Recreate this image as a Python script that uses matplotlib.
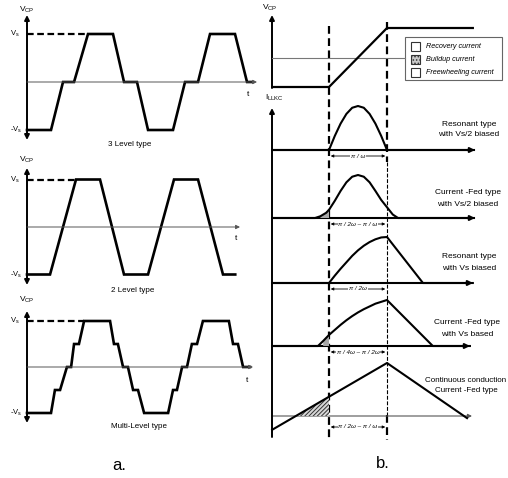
import numpy as np
import matplotlib.pyplot as plt
from matplotlib.patches import Rectangle
from matplotlib.transforms import blended_transform_factory

plt.rcParams["font.family"] = ["Liberation Sans", "DejaVu Sans"]
plt.rcParams["mathtext.default"] = "regular"
plt.rcParams["hatch.linewidth"] = 0.7

W, H = 508, 478

# a. bridge output voltage, time in edge units, level in units of Vs
t_3lvl = [0, 0.98, 1.47, 1.92, 2.49, 3.51, 3.96, 4.49, 4.94, 5.96, 6.45, 6.98, 7.47, 8.49, 8.98, 9.22]
v_3lvl = [-1, -1, 0, 0, 1, 1, 0, 0, -1, -1, 0, 0, 1, 1, 0, 0]
t_2lvl = [0, 0.94, 2.0, 2.98, 3.96, 4.94, 6.0, 6.98, 8.0, 8.5]
v_2lvl = [-1, -1, 1, 1, -1, -1, 1, 1, -1, -1]
t_mlvl = [0, 0.98, 1.14, 1.35, 1.63, 1.80, 1.92, 2.12, 2.33, 3.39, 3.55, 3.71, 3.92, 4.12, 4.33,
          4.53, 4.78, 5.76, 5.96, 6.12, 6.33, 6.53, 6.73, 6.94, 7.18, 8.24, 8.41, 8.61, 8.82, 9.10]
v_mlvl = [-1, -1, -0.5, -0.5, 0, 0, 0.5, 0.5, 1, 1, 0.5, 0.5, 0, 0, -0.5,
          -0.5, -1, -1, -0.5, -0.5, 0, 0, 0.5, 0.5, 1, 1, 0.5, 0.5, 0, 0]
type_labels = ["3 Level type", "2 Level type", "Multi-Level type"]

# b. time in units of pi/omega, currents normalised to their peak
t_vcp = [-0.98, 0, 1, 2.48]
v_vcp = [-1, -1, 1, 1]
t_i1 = [-0.98, 0, 0.1, 0.2, 0.3, 0.4, 0.5, 0.6, 0.7, 0.8, 0.9, 1.0, 2.5]
i_i1 = [0, 0, 0.32, 0.6, 0.82, 0.96, 1.0, 0.96, 0.82, 0.6, 0.32, 0, 0]
t_i2 = [-0.98, -0.24, -0.15, -0.05, 0, 0.1, 0.2, 0.3, 0.4, 0.5, 0.6, 0.7, 0.8, 0.9, 1.0, 1.1, 1.19, 2.5]
i_i2 = [0, 0, 0.04, 0.12, 0.19, 0.4, 0.63, 0.83, 0.96, 1.0, 0.96, 0.83, 0.63, 0.42, 0.25, 0.08, 0, 0]
t_i3 = [-0.98, 0, 0.1, 0.2, 0.3, 0.4, 0.5, 0.6, 0.7, 0.8, 0.9, 1.0, 1.62, 2.48]
i_i3 = [0, 0, 0.16, 0.31, 0.45, 0.59, 0.71, 0.81, 0.89, 0.95, 0.99, 1.0, 0, 0]
t_i4 = [-0.98, -0.19, -0.1, 0, 0.1, 0.2, 0.3, 0.4, 0.5, 0.6, 0.7, 0.8, 0.9, 1.0, 1.79, 2.43]
i_i4 = [0, 0, 0.11, 0.24, 0.35, 0.46, 0.56, 0.65, 0.73, 0.8, 0.86, 0.92, 0.96, 1.0, 0, 0]
t_i5 = [-0.98, 1.0, 2.38]
i_i5 = [-0.26, 1.0, -0.04]
row_labels = [("Resonant type", "with Vs/2 biased"),
              ("Current -Fed type", "with Vs/2 biased"),
              ("Resonant type", "with Vs biased"),
              ("Current -Fed type", "with Vs based"),
              ("Continuous conduction", "Current -Fed type")]
dim_labels = ["\u03c0 / \u03c9", "\u03c0 / 2\u03c9 \u2013 \u03c0 / \u03c9", "\u03c0 / 2\u03c9",
              "\u03c0 / 4\u03c9 \u2013 \u03c0 / 2\u03c9", "\u03c0 / 2\u03c9 \u2013 \u03c0 / \u03c9"]
legend_labels = ["Recovery current", "Buildup current", "Freewheeling current"]

fig = plt.figure(figsize=(W / 100, H / 100), dpi=100)


def row_axes(x0, x1, xzero, xunit, yzero, yunit, ytop, ybot):
    ax = fig.add_axes([x0 / W, 1 - ybot / H, (x1 - x0) / W, (ybot - ytop) / H])
    ax.set_xlim((x0 - xzero) / xunit, (x1 - xzero) / xunit)
    ax.set_ylim((yzero - ybot) / yunit, (yzero - ytop) / yunit)
    ax.axis("off")
    return ax


def arrow(ax, p0, p1, style="-|>", lw=1.4, color="k", ms=7, **kw):
    ax.annotate("", xy=p1, xytext=p0,
                arrowprops=dict(arrowstyle=style, lw=lw, color=color, shrinkA=0,
                                shrinkB=0, mutation_scale=ms), **kw)


# ---------- left column ----------
left_rows = [(82, 48, 5, 150), (227, 47.5, 150, 295), (367, 46, 295, 440)]
left_data = [(t_3lvl, v_3lvl), (t_2lvl, v_2lvl), (t_mlvl, v_mlvl)]
axis_top = [15, 168, 311]
axis_bot = [140, 285, 423]
zero_end = [257, 240, 253]
vcp_y = [10, 160, 300]
type_xy = [(130, 145), (133, 290), (139, 427)]
t_xy = [(248, 94), (236, 238), (247, 380)]

ov = fig.add_axes([0, 0, 1, 1])
ov.set_xlim(0, W)
ov.set_ylim(H, 0)
ov.axis("off")
ov.patch.set_alpha(0)

for k, ((yz, yu, yt, yb), (t, v)) in enumerate(zip(left_rows, left_data)):
    ax = row_axes(0, 262, 27, 24.5, yz, yu, yt, yb)
    arrow(ax, (0, 0), ((zero_end[k] - 27) / 24.5, 0), lw=0.7, color="#555555", ms=6)
    ax.plot(t, v, color="k", lw=1.9, solid_joinstyle="miter")
    t_first = t[v.index(1)]
    ax.plot([0, t_first], [1, 1], color="k", lw=1.6, ls=(0, (3, 1.6)))
    arrow(ov, (27, axis_bot[k]), (27, axis_top[k]), style="<|-|>", lw=1.4)
    ov.text(27, vcp_y[k], "V$_{CP}$", fontsize=6, ha="center", va="center")
    ov.text(20, yz - yu, "V$_s$", fontsize=5.5, ha="right", va="center")
    ov.text(22, yz + yu, "-V$_s$", fontsize=5.5, ha="right", va="center")
    ov.text(t_xy[k][0], t_xy[k][1], "t", fontsize=6, ha="center", va="center")
    ov.text(type_xy[k][0], type_xy[k][1], type_labels[k], fontsize=5.8,
            ha="center", va="center")

# ---------- right column ----------
X0, X1, TZ, TU = 262, 508, 329, 58
ax_v = row_axes(X0, X1, TZ, TU, 57.5, 29.5, 0, 96)
ax_v.plot([-0.98, 1.31], [0, 0], color="#777777", lw=0.8)
ax_v.plot(t_vcp, v_vcp, color="k", lw=1.6)

right_rows = [(150, 44, 96, 162), (218, 43, 162, 228), (283, 46, 228, 296),
              (346, 46, 296, 358), (416, 53, 358, 445)]
right_data = [(t_i1, i_i1), (t_i2, i_i2), (t_i3, i_i3), (t_i4, i_i4), (t_i5, i_i5)]
base_end = [475, 475, 473, 470, 472]
dim_y = [156, 224, 289, 352, 427]
label_xy = [(469, 124, 135), (468, 193, 205), (469, 257, 268), (467, 322, 334), (466, 380, 391)]

bt = blended_transform_factory(ax_v.transData, ov.transData)

for k, ((yz, yu, yt, yb), (t, cur)) in enumerate(zip(right_rows, right_data)):
    ax = row_axes(X0, X1, TZ, TU, yz, yu, yt, yb)
    t = np.array(t)
    cur = np.array(cur)
    if k in (1, 3):
        m = t <= 0
        ax.fill_between(t[m], cur[m], 0, where=cur[m] > 0, facecolor="#a8a8a8",
                        edgecolor="none")
    if k == 4:
        ts = np.linspace(t[0], 0, 60)
        ys = np.interp(ts, t, cur)
        ax.fill_between(ts, ys, 0, where=ys > 0, facecolor="#d8d8d8", edgecolor="#333333",
                        hatch="////////", lw=0)
        arrow(ov, (272, yz), (base_end[k], yz), lw=0.8, color="#555555", ms=6)
    else:
        arrow(ov, (272, yz), (base_end[k], yz), lw=1.5, ms=7)
    ax.plot(t, cur, color="k", lw=1.5)
    # pulse width marker between the two switching instants
    ov.annotate("", xy=(0.97, dim_y[k]), xytext=(0.03, dim_y[k]), xycoords=bt, textcoords=bt,
                arrowprops=dict(arrowstyle="<|-|>", lw=0.6, color="k", shrinkA=0,
                                shrinkB=0, mutation_scale=4))
    ov.text(0.5, dim_y[k], dim_labels[k], transform=bt, fontsize=4.5, style="italic",
            ha="center", va="center",
            bbox=dict(facecolor="white", edgecolor="none", pad=0.6))
    lx, ly1, ly2 = label_xy[k]
    fs = 5.8 if k == 4 else 6
    ov.text(lx, ly1, row_labels[k][0], fontsize=fs, ha="center", va="center")
    ov.text(lx, ly2, row_labels[k][1], fontsize=fs, ha="center", va="center")

# switching instants
ov.plot([0, 0], [26, 440], transform=bt, color="k", lw=1.6, ls=(0, (3.5, 2)))
ov.plot([1, 1], [22, 162], transform=bt, color="k", lw=1.6, ls=(0, (3.5, 2)))
ov.plot([1, 1], [162, 415], transform=bt, color="k", lw=0.8, ls=(0, (3.5, 1.5)))
ov.plot([1, 1], [415, 440], transform=bt, color="k", lw=1.6, ls=(0, (3.5, 2)))

# vertical axes of b.
arrow(ov, (272, 88), (272, 15), lw=1.4)
arrow(ov, (272, 437), (272, 108), lw=1.4)
ov.text(270, 8, "V$_{CP}$", fontsize=6, ha="center", va="center")
ov.text(274, 98, "I$_{LLKC}$", fontsize=6, ha="center", va="center")

# legend box
ov.add_patch(Rectangle((405, 37), 97, 43, facecolor="white", edgecolor="#666666", lw=0.8))
for k, lab in enumerate(legend_labels):
    y = 46 + 13 * k
    ov.add_patch(Rectangle((411, y - 4.5), 9, 9, facecolor="#c8c8c8" if k == 1 else "white",
                           edgecolor="#333333", lw=0.8, hatch="....." if k == 1 else None))
    ov.text(426, y, lab, fontsize=5.2, style="italic", ha="left", va="center")

ov.text(119, 465, "a.", fontsize=12, ha="center", va="center")
ov.text(383, 464, "b.", fontsize=12, ha="center", va="center")

fig.savefig("out.png", dpi=100)
